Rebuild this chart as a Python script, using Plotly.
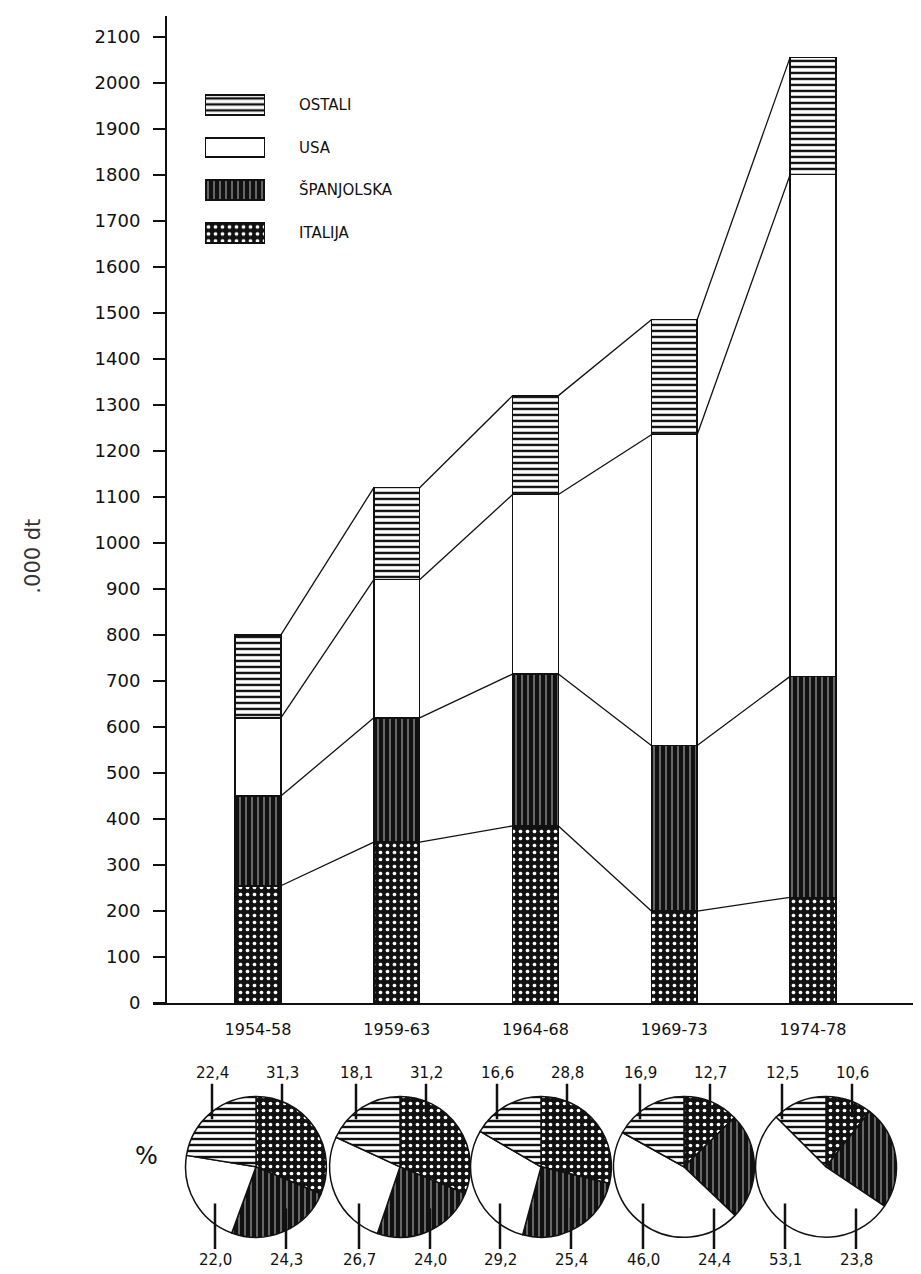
import plotly.graph_objects as go

# ---- data (000 dt) ----
periods = ["1954-58", "1959-63", "1964-68", "1969-73", "1974-78"]
italija = [255, 350, 385, 200, 230]
spanjolska = [195, 270, 330, 360, 480]
usa = [170, 300, 390, 675, 1090]
ostali = [180, 200, 215, 250, 255]

# ---- shares (%) for the pies ----
pct_italija = [31.3, 31.2, 28.8, 12.7, 10.6]
pct_spanjolska = [24.3, 24.0, 25.4, 24.4, 23.8]
pct_usa = [22.0, 26.7, 29.2, 46.0, 53.1]
pct_ostali = [22.4, 18.1, 16.6, 16.9, 12.5]

y_ticks = list(range(0, 2101, 100))
series_names = ["ITALIJA", "ŠPANJOLSKA", "USA", "OSTALI"]

W, H = 921, 1274
INK = "#111111"
BAR_W = 0.33
xpos = list(range(len(periods)))

styles = {
    "ITALIJA": dict(shape=".", fg="white", bg=INK, size=7, sol=0.22, color=INK),
    "ŠPANJOLSKA": dict(shape="|", fg="white", bg=INK, size=6, sol=0.12, color=INK),
    "USA": dict(shape="", fg=INK, bg="white", size=6, sol=0.3, color="white"),
    "OSTALI": dict(shape="-", fg=INK, bg="white", size=6, sol=0.4, color="white"),
}


def pattern_of(n):
    s = styles[n]
    return dict(shape=s["shape"], fgcolor=s["fg"], bgcolor=s["bg"], size=s["size"],
                solidity=s["sol"], fgopacity=1, fillmode="replace")


fig = go.Figure()
series = list(zip(series_names, [italija, spanjolska, usa, ostali]))
for name, vals in series:
    fig.add_trace(go.Bar(
        x=xpos, y=vals, name=name, width=BAR_W, showlegend=False,
        marker=dict(color=styles[name]["color"], line=dict(color=INK, width=1.5),
                    pattern=pattern_of(name), opacity=1),
        hoverinfo="skip",
    ))

# connecting lines between segment boundaries
cum = [0] * len(periods)
lx, ly = [], []
for _, vals in series:
    cum = [a + b for a, b in zip(cum, vals)]
    for i in range(len(periods) - 1):
        lx += [xpos[i] + BAR_W / 2, xpos[i + 1] - BAR_W / 2, None]
        ly += [cum[i], cum[i + 1], None]
fig.add_trace(go.Scatter(x=lx, y=ly, mode="lines", line=dict(color=INK, width=1.3),
                         showlegend=False, hoverinfo="skip"))

# legend swatches drawn on a small categorical axis
for name in series_names:
    fig.add_trace(go.Bar(
        x=[1], y=[name], orientation="h", xaxis="x2", yaxis="y2", width=0.46,
        showlegend=False, hoverinfo="skip",
        marker=dict(color=styles[name]["color"], line=dict(color=INK, width=2),
                    pattern=pattern_of(name), opacity=1),
    ))

# ---- pies ----
pie_cx = [248, 392, 533, 676, 818]
pie_cy = 1168
pie_r = 71
annotations = []
fmt = lambda v: f"{v:.1f}".replace(".", ",")
for k in range(len(periods)):
    vals = [pct_italija[k], pct_spanjolska[k], pct_usa[k], pct_ostali[k]]
    cx = pie_cx[k]
    fig.add_trace(go.Pie(
        values=vals, labels=series_names, sort=False, direction="clockwise", rotation=0,
        textinfo="none", hoverinfo="skip", showlegend=False,
        domain=dict(x=[(cx - pie_r) / W, (cx + pie_r) / W],
                    y=[(H - (pie_cy + pie_r)) / H, (H - (pie_cy - pie_r)) / H]),
        marker=dict(colors=[styles[n]["color"] for n in series_names],
                    line=dict(color=INK, width=1.5),
                    pattern=dict(shape=[styles[n]["shape"] for n in series_names],
                                 fgcolor=[styles[n]["fg"] for n in series_names],
                                 bgcolor=[styles[n]["bg"] for n in series_names],
                                 size=[styles[n]["size"] for n in series_names],
                                 solidity=[styles[n]["sol"] for n in series_names],
                                 fgopacity=1, fillmode="replace")),
    ))
    # top-left: ostali, top-right: italija, bottom-left: usa, bottom-right: spanjolska
    placements = [
        (pct_ostali[k], cx - 44, 1120, -46),
        (pct_italija[k], cx + 26, 1118, -44),
        (pct_usa[k], cx - 41, 1205, 56),
        (pct_spanjolska[k], cx + 30, 1210, 51),
    ]
    for v, px, py, ay in placements:
        annotations.append(dict(
            x=px / W, y=(H - py) / H, xref="paper", yref="paper",
            text=fmt(v), showarrow=True, arrowhead=0, arrowwidth=2.5, arrowcolor=INK,
            ax=0, ay=ay, font=dict(family="DejaVu Sans", size=15, color=INK),
        ))

annotations.append(dict(x=138 / W, y=(H - 1157) / H, xref="paper", yref="paper",
                        xanchor="center", yanchor="middle",
                        text="%", showarrow=False,
                        font=dict(family="DejaVu Sans", size=24, color=INK)))
annotations.append(dict(x=25 / W, y=(H - 553) / H, xref="paper", yref="paper",
                        xanchor="center", yanchor="middle",
                        text=".000 dt", textangle=-90, showarrow=False,
                        font=dict(family="DejaVu Sans", size=21, color="#333")))

fig.update_layout(
    width=W, height=H, barmode="stack",
    margin=dict(l=0, r=0, t=0, b=0),
    paper_bgcolor="white", plot_bgcolor="white",
    annotations=annotations,
    showlegend=False,
    xaxis=dict(domain=[145 / W, 1.0], range=[(145 - 250) / 138.75, (921 - 250) / 138.75],
               tickvals=xpos, ticktext=periods, ticks="", showgrid=False, zeroline=False,
               showline=True, linecolor=INK, linewidth=2, ticklabelstandoff=11,
               tickfont=dict(family="DejaVu Sans", size=16, color=INK)),
    yaxis=dict(domain=[(H - 1003) / H, (H - 8) / H], range=[0, 2145],
               anchor="free", position=158 / W,
               tickvals=y_ticks, ticks="outside", ticklen=12, tickwidth=1.5, tickcolor=INK,
               showgrid=False, zeroline=False, showline=True, linecolor=INK, linewidth=2,
               ticklabelstandoff=9,
               tickfont=dict(family="DejaVu Sans", size=18, color=INK)),
    xaxis2=dict(domain=[197 / W, 257 / W], range=[0, 1], anchor="y2", visible=False,
                fixedrange=True),
    yaxis2=dict(domain=[(H - 248) / H, (H - 76) / H], anchor="x2", type="category",
                categoryorder="array", categoryarray=series_names, side="right",
                showline=False, showgrid=False, zeroline=False, ticks="",
                ticklabelstandoff=33,
                tickfont=dict(family="DejaVu Sans", size=15, color=INK)),
)

fig.write_html("out.html")
